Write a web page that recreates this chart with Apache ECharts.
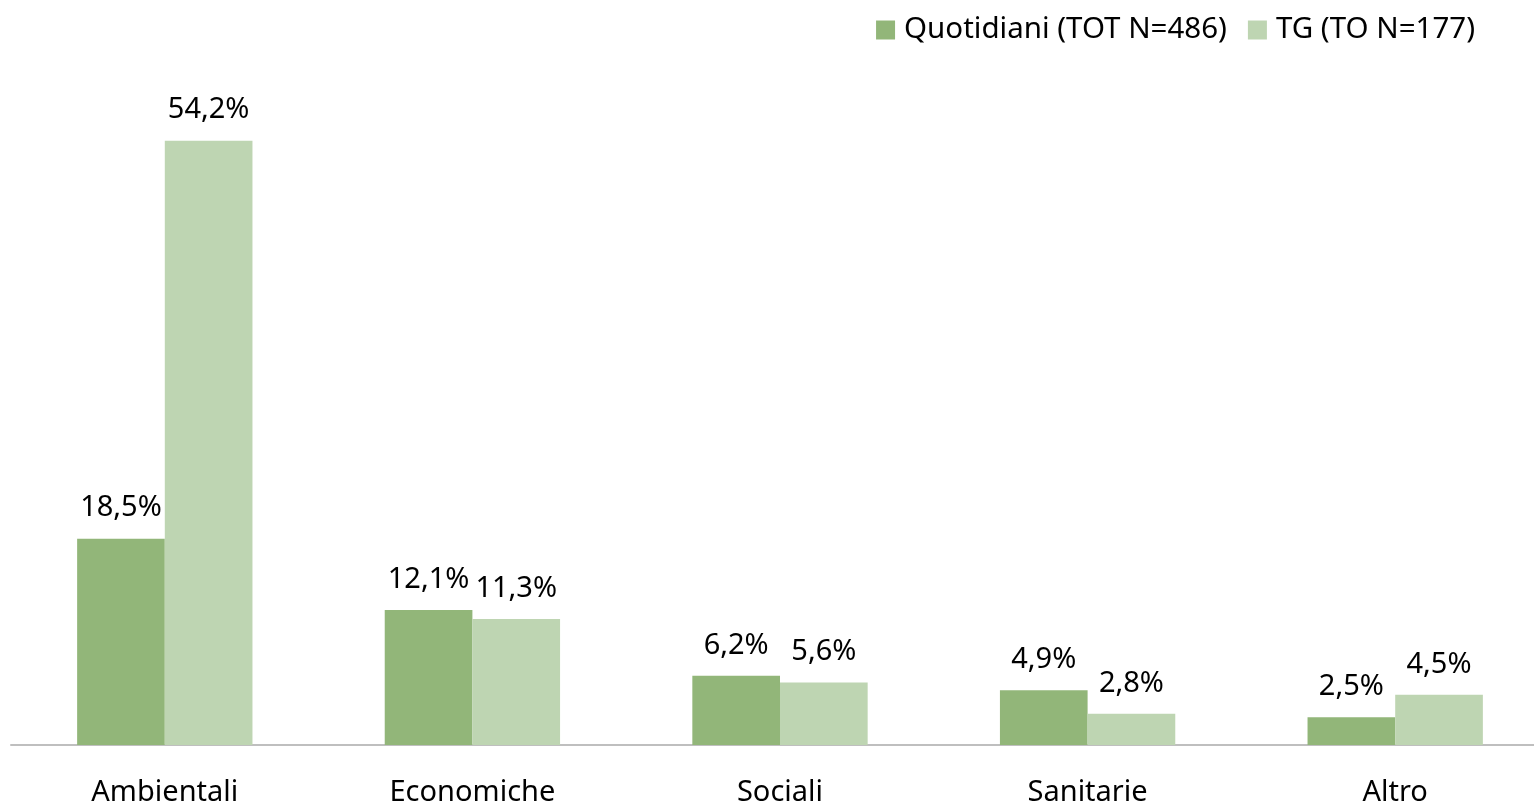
<!DOCTYPE html>
<html><head><meta charset="utf-8">
<script src="https://cdn.jsdelivr.net/npm/echarts@6/dist/echarts.min.js"></script>
<style>html,body{margin:0;padding:0;background:#fff;overflow:hidden;width:1534px;height:807px}#c{width:1550px;height:807px}</style>
</head><body><div id="c"></div>
<script>
const categories = ['Ambientali','Economiche','Sociali','Sanitarie','Altro'];
const seriesNames = ['Quotidiani (TOT N=486)','TG (TO N=177)'];
const quotidiani = [18.5, 12.1, 6.2, 4.9, 2.5];
const tg = [54.2, 11.3, 5.6, 2.8, 4.5];
const FONT = 'Noto Sans';
const fmt = p => p.value.toFixed(1).replace('.', ',') + '%';
const chart = echarts.init(document.getElementById('c'));
chart.setOption({
  animation: false,
  textStyle: {fontFamily: FONT},
  legend: {
    top: 10, right: 70, itemWidth: 19, itemHeight: 19, itemGap: 21,
    icon: 'rect',
    textStyle: {fontFamily: FONT, fontSize: 29.5, color: '#000', padding: [0,0,0,4]},
    data: seriesNames
  },
  grid: {left: 11, right: 1, top: 76, bottom: 58, containLabel: false},
  xAxis: {
    type: 'category', data: categories,
    axisLine: {lineStyle: {color: '#BFBFBF', width: 2}},
    axisTick: {show: false},
    axisLabel: {fontFamily: FONT, fontSize: 29, color: '#000', margin: 33}
  },
  yAxis: {type: 'value', min: 0, max: 60, show: false, splitLine: {show: false}},
  series: [
    {name: seriesNames[0], type: 'bar', data: quotidiani, barGap: '0%', barCategoryGap: '43%',
     itemStyle: {color: '#92B679'},
     label: {show: true, position: 'top', distance: 16, formatter: fmt, fontFamily: FONT, fontSize: 29, color: '#000'}},
    {name: seriesNames[1], type: 'bar', data: tg, barGap: '0%', barCategoryGap: '43%',
     itemStyle: {color: '#BED5B2'},
     label: {show: true, position: 'top', distance: 16, formatter: fmt, fontFamily: FONT, fontSize: 29, color: '#000'}}
  ]
});
</script></body></html>
